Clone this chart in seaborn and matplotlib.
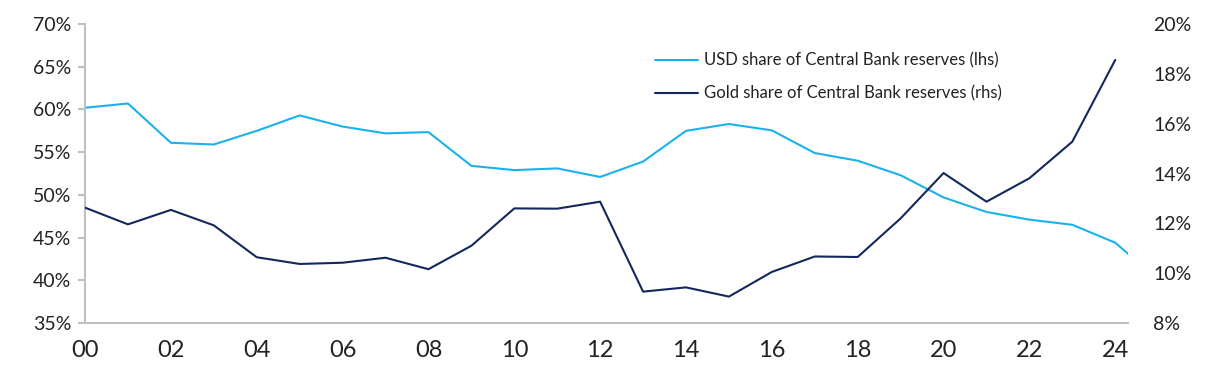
import pandas as pd
import numpy as np
import matplotlib
matplotlib.use("Agg")
import matplotlib.pyplot as plt
import seaborn as sns
from matplotlib.ticker import FuncFormatter

# USD share of central bank reserves (lhs, %)
usd_years = [0, 1, 2, 3, 4, 5, 6, 7, 8, 9, 10, 11, 12, 13, 14, 15, 16, 17, 18, 19, 20, 21, 22, 23, 24, 24.3]
usd_share = [60.2, 60.7, 56.1, 55.9, 57.5, 59.3, 58.0, 57.2, 57.35, 53.4, 52.9, 53.1, 52.1, 53.9,
             57.5, 58.3, 57.55, 54.9, 54.0, 52.3, 49.7, 48.0, 47.1, 46.5, 44.4, 43.1]

# Gold share of central bank reserves (rhs, %)
gold_years = list(range(0, 25))
gold_share = [12.63, 11.96, 12.54, 11.92, 10.64, 10.37, 10.42, 10.62, 10.16, 11.10, 12.60, 12.59,
              12.87, 9.26, 9.43, 9.06, 10.05, 10.67, 10.65, 12.2, 14.02, 12.87, 13.81, 15.28, 18.56]

x_ticks = list(range(0, 25, 2))
x_labels = [f"{t:02d}" for t in x_ticks]

usd_df = pd.DataFrame({"Year": usd_years, "Share": usd_share})
gold_df = pd.DataFrame({"Year": gold_years, "Share": gold_share})

sns.set_style("white")
plt.rcParams["font.family"] = ["Lato", "DejaVu Sans"]

usd_color = "#1AB2EC"
gold_color = "#14275C"
spine_grey = "#BFBFBF"
text_color = "#222222"

fig = plt.figure(figsize=(12.2, 3.7), dpi=100)
ax = fig.add_axes([0.0697, 0.127, 0.855, 0.808])
ax2 = ax.twinx()

sns.lineplot(data=usd_df, x="Year", y="Share", ax=ax, color=usd_color, linewidth=1.5,
             label="USD share of Central Bank reserves (lhs)", legend=False)
sns.lineplot(data=gold_df, x="Year", y="Share", ax=ax2, color=gold_color, linewidth=1.5,
             label="Gold share of Central Bank reserves (rhs)", legend=False)

ax.set_xlim(0, 24.3)
ax.set_ylim(35, 70)
ax2.set_ylim(8, 20)
ax.set_yticks(range(35, 71, 5))
ax2.set_yticks(range(8, 21, 2))
ax.yaxis.set_major_formatter(FuncFormatter(lambda v, p: f"{v:.0f}%"))
ax2.yaxis.set_major_formatter(FuncFormatter(lambda v, p: f"{v:.0f}%"))
ax.set_xticks(x_ticks)
ax.set_xticklabels(x_labels)

for a in (ax, ax2):
    a.set_xlabel("")
    a.set_ylabel("")
    for s in ("top", "right"):
        a.spines[s].set_visible(False)
ax2.spines["left"].set_visible(False)
ax2.spines["bottom"].set_visible(False)
ax.spines["left"].set_color(spine_grey)
ax.spines["bottom"].set_color(spine_grey)
ax.spines["left"].set_linewidth(1.5)
ax.spines["bottom"].set_linewidth(1.5)

ax.tick_params(axis="x", direction="out", length=5, width=1.5, color=spine_grey,
               labelsize=17, labelcolor=text_color, pad=7)
ax.tick_params(axis="y", direction="out", length=5, width=1.5, color=spine_grey,
               labelsize=14, labelcolor=text_color, pad=5)
ax2.tick_params(axis="y", length=0, labelsize=14, labelcolor=text_color, pad=18)

h1, l1 = ax.get_legend_handles_labels()
h2, l2 = ax2.get_legend_handles_labels()
ax2.legend(h1 + h2, l1 + l2, loc="upper left", bbox_to_anchor=(0.546, 0.905), frameon=False,
           borderpad=0, borderaxespad=0, fontsize=12, handlelength=2.6, handletextpad=0.35,
           labelspacing=1.0, labelcolor=text_color)

fig.savefig("out.png", dpi=100)
